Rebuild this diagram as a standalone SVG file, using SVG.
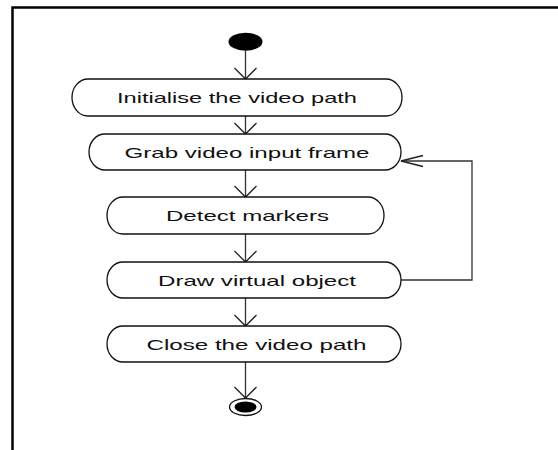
<svg xmlns="http://www.w3.org/2000/svg" width="558" height="450" viewBox="0 0 558 450">
<style>
.frame{fill:none;stroke:#000;stroke-width:2.5}
.node rect{fill:#fff;stroke:#111;stroke-width:1.3}
.node text{font-family:"Liberation Sans",Arial,sans-serif;font-size:15px;fill:#111;text-anchor:start}
.conn{fill:none;stroke:#333;stroke-width:1.3}
.head{fill:none;stroke:#222;stroke-width:1.3}
</style>
<defs>
<marker id="arrV" markerUnits="userSpaceOnUse" markerWidth="30" markerHeight="30" refX="15" refY="15" viewBox="0 0 30 30" orient="auto" overflow="visible">
<path class="head" d="M4,4 L15,15 L4,26"/>
</marker>
<marker id="arrH" markerUnits="userSpaceOnUse" markerWidth="30" markerHeight="30" refX="25" refY="15" viewBox="0 0 30 30" orient="auto" overflow="visible">
<path class="head" d="M3,9.5 L25,15 L3,20.5"/>
</marker>
</defs>
<rect width="558" height="450" fill="#fff"/>
<path class="frame" d="M12.5,450 V7.5 H558"/>
<g id="connectors">
<path class="conn" d="M245.5,50.7 V79" marker-end="url(#arrV)"/>
<path class="conn" d="M245.5,116 V134" marker-end="url(#arrV)"/>
<path class="conn" d="M245.5,170 V197" marker-end="url(#arrV)"/>
<path class="conn" d="M245.5,234 V262" marker-end="url(#arrV)"/>
<path class="conn" d="M245.5,298 V326" marker-end="url(#arrV)"/>
<path class="conn" d="M245.5,362 V398" marker-end="url(#arrV)"/>
<path class="conn" d="M401,280 H472 V161 H401" marker-end="url(#arrH)"/>
</g>
<g id="start"><ellipse cx="245.5" cy="41.7" rx="17" ry="9" fill="#000"/></g>
<g id="n1" class="node"><rect x="72" y="79" width="330" height="37" rx="16" ry="18.5"/><text x="117" y="103" textLength="240" lengthAdjust="spacingAndGlyphs">Initialise the video path</text></g>
<g id="n2" class="node"><rect x="89" y="134" width="312" height="36" rx="16" ry="18"/><text x="124.5" y="157.5" textLength="245" lengthAdjust="spacingAndGlyphs">Grab video input frame</text></g>
<g id="n3" class="node"><rect x="107" y="197" width="277" height="37" rx="16" ry="18.5"/><text x="166" y="221" textLength="163" lengthAdjust="spacingAndGlyphs">Detect markers</text></g>
<g id="n4" class="node"><rect x="107" y="262" width="294" height="36" rx="16" ry="18"/><text x="158" y="285.5" textLength="198" lengthAdjust="spacingAndGlyphs">Draw virtual object</text></g>
<g id="n5" class="node"><rect x="107" y="326" width="294" height="36" rx="16" ry="18"/><text x="146.5" y="349.5" textLength="220" lengthAdjust="spacingAndGlyphs">Close the video path</text></g>
<g id="end"><ellipse cx="245.5" cy="407" rx="16" ry="8.5" fill="#fff" stroke="#111" stroke-width="1.3"/><ellipse cx="245.5" cy="407" rx="11" ry="5.5" fill="#000"/></g>
</svg>
